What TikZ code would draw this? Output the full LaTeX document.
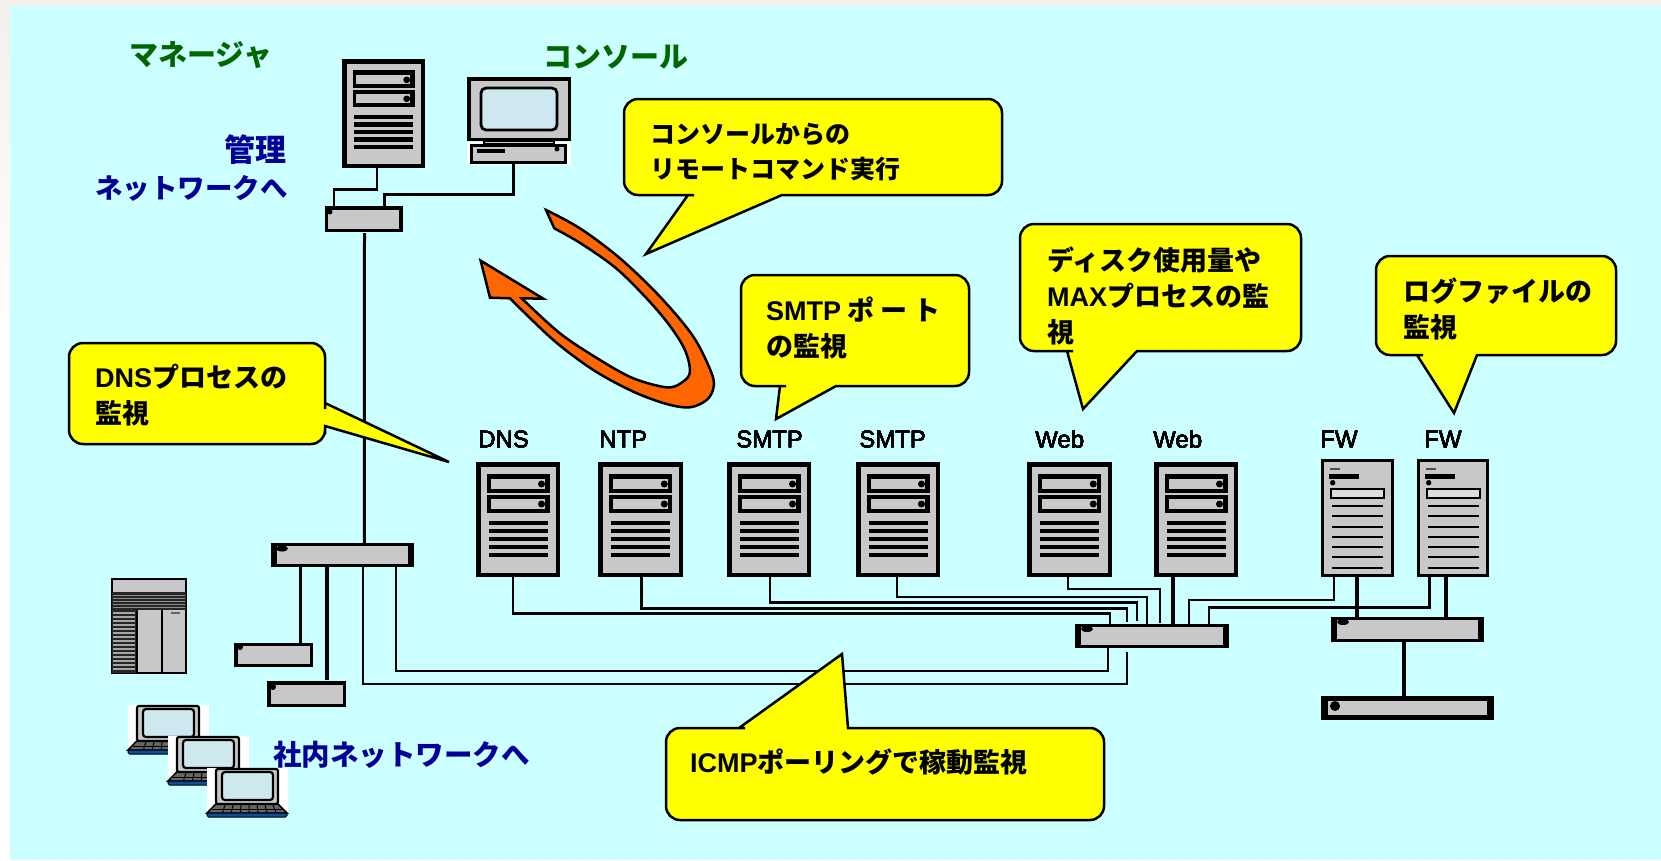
\documentclass[tikz,border=0pt]{standalone}
\usepackage{fontspec}
\setmainfont{Liberation Sans}
\newfontfamily\cjk{Noto Sans CJK JP}
\newfontfamily\latfont[FakeBold=0.25]{Liberation Sans}
\definecolor{sheet}{HTML}{CCFFFF}
\definecolor{strip}{HTML}{F2F0EB}
\definecolor{boxgray}{HTML}{C8C8C8}
\definecolor{screenblue}{HTML}{CDE8EF}
\definecolor{bubbleyellow}{HTML}{FFFF00}
\definecolor{arroworange}{HTML}{FF6600}
\definecolor{labelgreen}{HTML}{006600}
\definecolor{labelblue}{HTML}{000099}
\definecolor{keyblue}{HTML}{0A4F9E}
\tikzset{
  serverbox/.style={draw=black,fill=boxgray,line width=4.5pt,inner sep=0pt},
  hubbox/.style={fill=black,inner sep=0pt},
  wire/.style={draw=black,line width=2.5pt},
  thickwire/.style={draw=black,line width=3.5pt},
  heavywire/.style={draw=black,line width=4.5pt},
  bubble/.style={draw=black,fill=bubbleyellow,line width=2.5pt,line join=miter},
  bubbletext/.style={font=\cjk\bfseries\fontsize{27}{36}\selectfont,align=left,anchor=west,inner sep=0pt},
  srvlabel/.style={font=\latfont\fontsize{24}{26}\selectfont,anchor=west,inner sep=0pt},
  greenlabel/.style={font=\cjk\bfseries\fontsize{29}{32}\selectfont,text=labelgreen,anchor=west,inner sep=0pt},
  bluelabel/.style={font=\cjk\bfseries\fontsize{28.5}{38}\selectfont,text=labelblue,inner sep=0pt},
}
% name, left, top, width, height
\newcommand{\servericon}[5]{
  \node[serverbox,minimum width={(#4-4.5)*1pt},minimum height={(#5-4.5)*1pt}] (#1) at ({#2+#4/2},{#3+#5/2}) {};
  \begin{scope}[shift={(#2,#3)},xscale=#4/84,yscale=#5/115]
    \fill[black] (10.7,12) rectangle (73.5,31);
    \fill[black] (10.7,33) rectangle (73.5,51);
    \fill[boxgray] (14.5,17.3) rectangle (69,26.7);
    \fill[boxgray] (14.5,37.3) rectangle (69,46.7);
    \fill[black] (65.5,22) circle (3.5);
    \fill[black] (65.5,42) circle (3.5);
    \foreach \vy in {61,69,77,85,93}
      \fill[black] (12.6,\vy-2.3) rectangle (71.6,\vy+2.3);
  \end{scope}
}
% name, left, top, width, height
\newcommand{\fwicon}[5]{
  \node[serverbox,line width=3.2pt,minimum width={(#4-3.2)*1pt},minimum height={(#5-3.2)*1pt}] (#1) at ({#2+#4/2},{#3+#5/2}) {};
  \begin{scope}[shift={(#2,#3)}]
    \fill[black!70] (9,8.5) rectangle (19,11);
    \fill[black] (8,15) rectangle (38,20);
    \fill[black] (11.7,23.7) circle (2.7);
    \draw[black,line width=2.5pt,fill=boxgray!60] (10,30) rectangle (63,39);
    \foreach \vy in {47,57.3,67.7,77.7,88,98.3,108.7}
      \fill[black] (11,\vy-1.1) rectangle (62,\vy+1.1);
  \end{scope}
}
% name, x1, y1, x2, y2, side border, top border
\newcommand{\hubicon}[7]{
  \node[hubbox,minimum width={(#4-#2)*1pt},minimum height={(#5-#3)*1pt}] (#1) at ({(#2+#4)/2},{(#3+#5)/2}) {};
  \fill[boxgray] ({#2+#6},{#3+#7}) rectangle ({#4-#6},{#5-#7});
}
\begin{document}
\begin{tikzpicture}[x=1pt,y=-1pt]
\useasboundingbox (0,0) rectangle (1661,860);
% background
\fill[white] (0,0) rectangle (1661,860);
\shade[top color=strip,bottom color=white] (0,0) rectangle (10,320);
\fill[strip] (0,0) rectangle (1661,6);
\fill[sheet] (10,6) rectangle (1661,860);

% switches
\hubicon{hubmgr}{324.5}{206}{402.5}{232}{3.5}{3.5}
\hubicon{hubcore}{271}{543}{414}{567}{6}{3}
\hubicon{hubleft}{234}{642.5}{313}{667}{3.5}{3.5}
\hubicon{hublow}{267}{681}{346}{707}{3.5}{3.5}
\hubicon{hubnet}{1075}{624}{1229}{648}{6}{3}
\hubicon{hubfw}{1331}{617}{1484}{642}{6}{3}
\hubicon{hubext}{1321}{696}{1494}{720}{7}{5}
\foreach \px/\py/\rx/\ry in {330/212/2.5/2.5,282/548.5/6/3,240/647/3/3,273/687/3/3,1087/629/6/3,1343/622/6/3,1335/706/5/5}
  \fill[black] (\px,\py) ellipse [x radius=\rx,y radius=\ry];

% servers
\servericon{mgrsrv}{342}{59}{83}{109}
\foreach \nm/\xx/\ww in {dnssrv/476/84,ntpsrv/598/85,smtpa/727/84,smtpb/856/84,weba/1027/85,webb/1154/84}
  \servericon{\nm}{\xx}{462}{\ww}{115}
\fwicon{fwa}{1321}{459}{73}{118}
\fwicon{fwb}{1417}{459}{72}{118}
\foreach \nm/\lx/\lbl in {dnssrv/478/DNS,ntpsrv/599/NTP,smtpa/736/SMTP,smtpb/859/SMTP,weba/1035/Web,webb/1153/Web,fwa/1320/FW,fwb/1424/FW}
  \node[srvlabel] (lbl\nm) at (\lx,439) {\lbl};

% console
\fill[white] (467,142) rectangle (571,165);
\node[serverbox,line width=3.5pt,minimum width=100.5pt,minimum height=60.5pt] (consmon) at (519,109) {};
\draw[black,line width=2.8pt,fill=screenblue,rounded corners=5pt] (481,88) rectangle (557,130);
\draw[black,line width=1.5pt,fill=boxgray] (484,141) rectangle (554,144);
\node[serverbox,line width=2.8pt,minimum width=94pt,minimum height=17pt] (consbase) at (518.5,154) {};
\fill[black] (476.5,149) rectangle (505,153);
\fill[black] (557,149) circle (2.5);

% rack
\draw[black,line width=2.5pt,fill=boxgray] (112,579) rectangle (186,673);
\fill[black!85] (112,592) rectangle (186,610);
\foreach \ry in {595,598,601,604,607}
  \draw[black!45,line width=0.6pt] (113,\ry) -- (185,\ry);
\fill[black!85] (112,610) rectangle (136,673);
\foreach \ry in {613,617,...,672}
  \draw[black!35,line width=1.6pt] (113,\ry) -- (135,\ry);
\fill[black] (136,610) rectangle (138,673);
\fill[black] (161,610) rectangle (163,673);
\fill[black!60] (171,612) rectangle (180,614);

% client laptops
\foreach \lx/\ly in {128/705,168/736,207/768}{
  \begin{scope}[shift={(\lx,\ly)}]
    \fill[white] (0,0) rectangle (81,49);
    \draw[black,line width=1.5pt,fill=black!60] (8.7,36) -- (71,36) -- (80,45) -- (0,45) -- cycle;
    \foreach \kx in {18,26,...,66}
      \draw[black,line width=1pt] (\kx,37) -- ({40+(\kx-40)*1.12},45);
    \draw[black,line width=1pt] (5,41) -- (76,41);
    \fill[keyblue,draw=black,line width=1pt,rounded corners=1.5pt] (0,45) rectangle (80,49);
    \draw[black,line width=2.2pt,fill=boxgray,rounded corners=2pt] (9,1) rectangle (71,36);
    \draw[black,line width=2.2pt,fill=screenblue,rounded corners=3pt] (15,4) rectangle (66,32);
  \end{scope}
}

% wiring at the manager side
\draw[wire] ([xshift=-6.5]mgrsrv.south) -- ++(0,21.5) -| ([xshift=-29.5]hubmgr.north);
\draw[wire] ([xshift=-5]consbase.south) -- ++(0,30.5) -| ([xshift=21]hubmgr.north);
\draw[wire,line width=3pt] ([xshift=1,yshift=-1]hubmgr.south) -- ([xshift=21.8]hubcore.north);
\draw[thickwire] ([xshift=-41.8]hubcore.south) -- ([xshift=27.2,yshift=-4]hubleft.north);
\draw[thickwire] ([xshift=-15.5]hubcore.south) -- ([xshift=20.5,yshift=1]hublow.north);
\draw[wire] ([xshift=20.5]hubcore.south) -- ++(0,117) -| ([xshift=-25,yshift=-4]hubnet.south);
\draw[wire] ([xshift=53.5]hubcore.south) -- ++(0,104) -| ([xshift=-44]hubnet.south);

% wiring at the server side
\foreach \nm/\sx/\dn/\hx/\gap in {dnssrv/-5/36.5/-42/0,ntpsrv/1/31.7/-25/2,smtpa/1/25.7/-15/3,smtpb/-1/20/-5/0,weba/-1.5/12/8/1}
  \draw[wire] ([xshift=\sx]\nm.south) -- ++(0,\dn) -| ([xshift=\hx,yshift=\gap]hubnet.north);
\foreach \nm/\dn/\hx in {fwa/23/37,fwb/30.7/57}
  \draw[wire] ([xshift=-23.5]\nm.south) -- ++(0,\dn) -| ([xshift=\hx]hubnet.north);
\draw[heavywire] ([xshift=-23]webb.south) -- ([xshift=21]hubnet.north);
\draw[thickwire] ([xshift=-0.5]fwa.south) -- ([xshift=-50.5]hubfw.north);
\draw[thickwire] ([xshift=-7]fwb.south) -- ([xshift=38.5]hubfw.north);
\draw[heavywire] ([xshift=-3.5]hubfw.south) -- ([xshift=-3.5]hubext.north);

% labels
\node[greenlabel] (lblmgr) at (129,55) {マネージャ};
\node[greenlabel] (lblcons) at (543,57) {コンソール};
\node[bluelabel,anchor=east,font=\cjk\bfseries\fontsize{31}{36}\selectfont] (lbladm) at (287,150) {管理};
\node[bluelabel,anchor=east,font=\cjk\bfseries\fontsize{27.5}{36}\selectfont] (lblnet) at (288,188) {ネットワークへ};
\node[bluelabel,anchor=west] (lblint) at (273,755) {社内ネットワークへ};

% orange arrow
\begin{scope}[shift={(460,200)},x=0.3333pt,y=-0.3333pt]
  \draw[fill=arroworange,draw=black,line width=2.5pt,line join=miter]
    (258,30) -- plot[smooth,tension=0.55] coordinates {(258,30) (360,85) (480,175) (600,290) (700,410) (755,520) (760,565) (740,600) (690,622) (620,612) (520,575) (400,510) (280,420) (150,295)}
    -- (90,293) -- (62,182) -- (250,296) -- (185,295)
    -- plot[smooth,tension=0.55] coordinates {(185,295) (300,400) (420,480) (520,535) (620,562) (665,548) (690,515) (670,440) (600,340) (480,215) (370,135) (283,85)}
    -- cycle;
\end{scope}

% callouts
\draw[bubble] (790,195) [rounded corners=14pt] -- (1002,195) -- (1002,99) -- (624,99) -- (624,195) -- (680,195) [sharp corners] -- (688,195) -- (646,254) -- (782,195) -- cycle;
\node[bubbletext,font=\cjk\bfseries\fontsize{25}{35}\selectfont] (txtcons) at (650,152) {コンソールからの\\リモートコマンド実行};

\draw[bubble] (845,386) [rounded corners=14pt] -- (969,386) -- (969,275) -- (741,275) -- (741,386) -- (772,386) [sharp corners] -- (780,386) -- (776,419) -- (836,386) -- cycle;
\node[bubbletext] (txtsmtp) at (766,328) {{\rmfamily\bfseries SMTP} ポ ー ト\\の監視};

\draw[bubble] (1145,351) [rounded corners=14pt] -- (1301,351) -- (1301,224) -- (1020,224) -- (1020,351) -- (1059,351) [sharp corners] -- (1067,351) -- (1083,409) -- (1137,351) -- cycle;
\node[bubbletext] (txtdisk) at (1047,296) {ディスク使用量や\\{\rmfamily\bfseries MAX}プロセスの監\\視};

\draw[bubble] (1485,355) [rounded corners=14pt] -- (1616,355) -- (1616,256) -- (1376,256) -- (1376,355) -- (1409,355) [sharp corners] -- (1417,355) -- (1454,413) -- (1477,355) -- cycle;
\node[bubbletext] (txtlog) at (1403,308.5) {ログファイルの\\監視};

\draw[bubble] (325,434) [rounded corners=14pt] -- (325,444) -- (69,444) -- (69,343) -- (325,343) -- (325,395) [sharp corners] -- (325,403) -- (449,462) -- (325,426) -- cycle;
\node[bubbletext] (txtdns) at (95,395) {{\rmfamily\bfseries DNS}プロセスの\\監視};

\draw[bubble] (856,728) [rounded corners=14pt] -- (1104,728) -- (1104,820) -- (666,820) -- (666,728) -- (731,728) [sharp corners] -- (739,728) -- (842,654) -- (848,728) -- cycle;
\node[bubbletext] (txticmp) at (690,762) {{\rmfamily\bfseries ICMP}ポーリングで稼動監視};
\end{tikzpicture}
\end{document}
